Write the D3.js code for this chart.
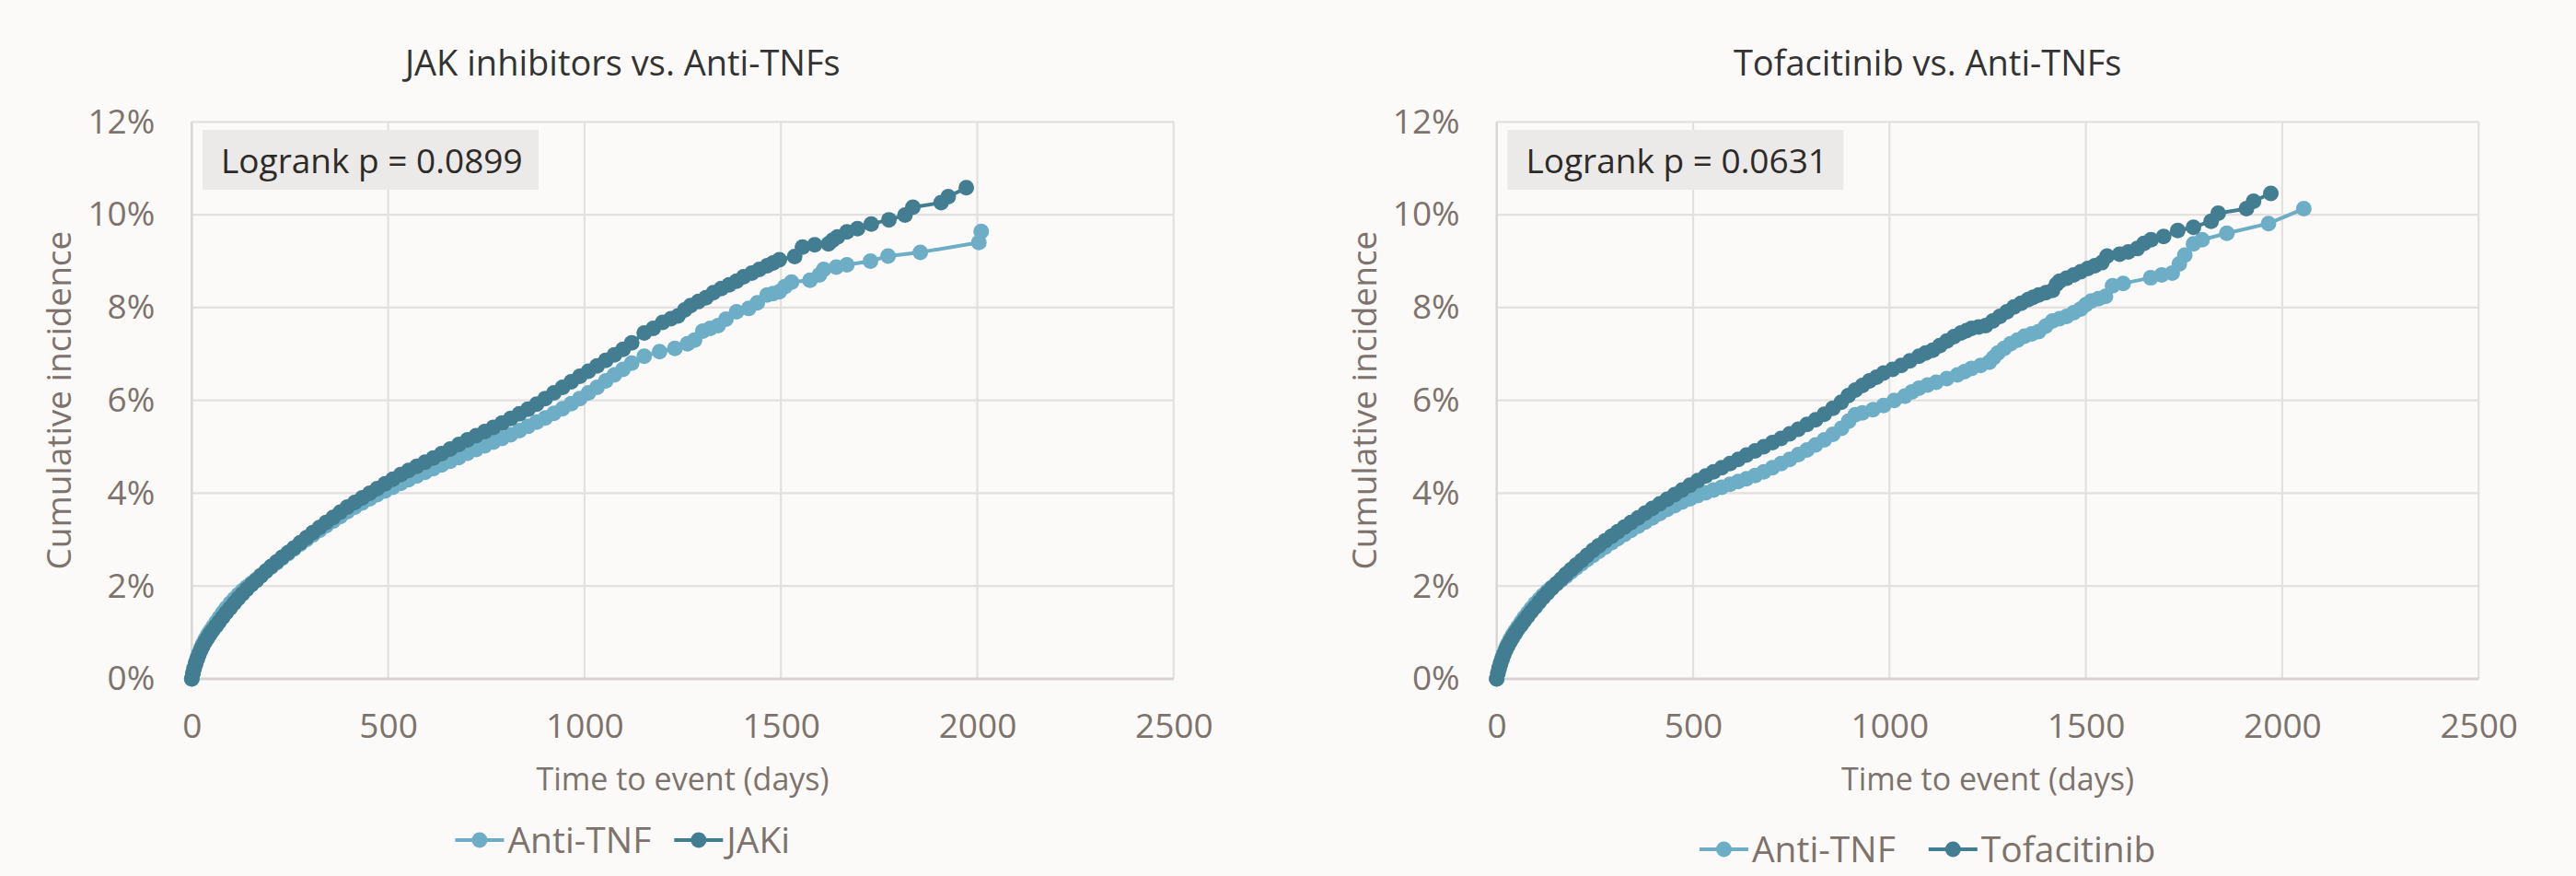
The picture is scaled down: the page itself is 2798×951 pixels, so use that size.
<!DOCTYPE html>
<html>
<head>
<meta charset="utf-8">
<script src="https://cdn.jsdelivr.net/npm/d3@7"></script>
<style>
  html, body { margin: 0; padding: 0; background: #fbfaf9; }
  svg { display: block; }
  text { font-family: "Open Sans", "Noto Sans", sans-serif; }
</style>
</head>
<body>
<svg id="chart" width="2798" height="951"></svg>
<script>
// Cumulative incidence curves, [days, percent] per event time
const jakAntiTnf = [
  [0,0],[3,0.13],[6,0.24],[10,0.36],[14,0.46],[18,0.55],[23,0.66],[28,0.75],[34,0.85],[40,0.94],
  [47,1.03],[54,1.12],[62,1.22],[70,1.32],[79,1.43],[88,1.53],[98,1.63],[108,1.72],[118,1.81],[129,1.9],
  [140,1.98],[152,2.06],[164,2.14],[176,2.23],[189,2.32],[202,2.41],[216,2.5],[230,2.6],[245,2.7],[260,2.8],
  [276,2.9],[292,3.0],[308,3.1],[325,3.2],[342,3.3],[360,3.4],[378,3.5],[396,3.6],[415,3.7],[434,3.79],
  [453,3.88],[472,3.97],[492,4.05],[512,4.13],[532,4.21],[552,4.29],[573,4.37],[594,4.45],[615,4.53],[636,4.61],
  [658,4.69],[680,4.77],[702,4.86],[724,4.94],[746,5.02],[768,5.1],[790,5.18],[812,5.26],[834,5.35],[856,5.44],
  [878,5.53],[900,5.62],[922,5.72],[944,5.82],[966,5.93],[988,6.04],[1010,6.16],[1032,6.28],[1054,6.42],[1076,6.55],
  [1098,6.67],[1120,6.8],[1152,6.95],[1191,7.05],[1230,7.12],[1262,7.22],[1280,7.3],[1301,7.49],[1320,7.55],[1340,7.61],
  [1360,7.75],[1387,7.91],[1418,7.98],[1440,8.1],[1465,8.27],[1480,8.3],[1496,8.34],[1510,8.45],[1527,8.55],[1574,8.59],
  [1598,8.7],[1609,8.82],[1641,8.87],[1668,8.92],[1728,9.0],[1773,9.11],[1855,9.19],[2004,9.4],[2010,9.64]
];
const jakJaki = [
  [0,0],[3,0.12],[6,0.22],[10,0.33],[14,0.43],[18,0.52],[23,0.62],[28,0.71],[34,0.8],[40,0.88],
  [47,0.97],[54,1.05],[62,1.14],[70,1.23],[79,1.33],[88,1.43],[98,1.53],[108,1.63],[118,1.73],[129,1.83],
  [140,1.93],[152,2.03],[164,2.12],[176,2.22],[189,2.32],[202,2.42],[216,2.52],[230,2.62],[245,2.72],[260,2.82],
  [276,2.93],[292,3.04],[308,3.15],[325,3.26],[342,3.37],[360,3.48],[378,3.59],[396,3.7],[415,3.8],[434,3.9],
  [453,4.0],[472,4.1],[492,4.2],[512,4.3],[532,4.4],[552,4.49],[573,4.58],[594,4.67],[615,4.76],[636,4.85],
  [658,4.95],[680,5.05],[702,5.15],[724,5.24],[746,5.33],[768,5.42],[790,5.51],[812,5.61],[834,5.71],[856,5.81],
  [878,5.92],[900,6.04],[922,6.16],[944,6.28],[966,6.4],[988,6.52],[1010,6.63],[1032,6.74],[1054,6.86],[1076,6.98],
  [1098,7.1],[1120,7.24],[1152,7.45],[1175,7.55],[1199,7.68],[1220,7.76],[1238,7.82],[1255,7.95],[1270,8.04],[1290,8.13],
  [1309,8.21],[1328,8.32],[1348,8.41],[1368,8.49],[1387,8.57],[1405,8.66],[1426,8.74],[1445,8.82],[1465,8.9],[1480,8.96],
  [1496,9.03],[1535,9.1],[1555,9.3],[1586,9.35],[1621,9.37],[1632,9.45],[1644,9.52],[1668,9.63],[1695,9.7],[1730,9.8],
  [1775,9.89],[1816,9.99],[1836,10.16],[1908,10.26],[1926,10.39],[1972,10.58]
];
const tofaAntiTnf = [
  [0,0],[3,0.13],[6,0.24],[10,0.36],[14,0.46],[18,0.55],[23,0.66],[28,0.75],[34,0.85],[40,0.94],
  [47,1.03],[54,1.12],[62,1.22],[70,1.32],[79,1.42],[88,1.52],[98,1.62],[108,1.71],[118,1.8],[129,1.89],
  [140,1.97],[152,2.05],[164,2.13],[176,2.21],[189,2.3],[202,2.39],[216,2.48],[230,2.57],[245,2.66],[260,2.75],
  [276,2.84],[292,2.93],[308,3.02],[325,3.11],[342,3.2],[360,3.29],[378,3.38],[396,3.47],[415,3.56],[434,3.65],
  [453,3.73],[472,3.81],[492,3.88],[512,3.95],[532,4.01],[552,4.07],[573,4.13],[594,4.19],[615,4.25],[636,4.31],
  [658,4.38],[680,4.46],[702,4.55],[724,4.64],[746,4.73],[768,4.83],[790,4.93],[812,5.04],[834,5.15],[856,5.27],
  [878,5.4],[896,5.55],[913,5.69],[931,5.73],[958,5.8],[985,5.89],[1012,6.0],[1039,6.09],[1057,6.18],[1075,6.26],
  [1097,6.33],[1119,6.39],[1146,6.47],[1173,6.55],[1191,6.62],[1209,6.69],[1232,6.75],[1254,6.82],[1265,6.92],[1276,7.02],
  [1292,7.12],[1308,7.22],[1326,7.3],[1344,7.38],[1362,7.43],[1380,7.48],[1398,7.6],[1415,7.71],[1433,7.76],[1451,7.81],
  [1469,7.89],[1487,7.97],[1500,8.06],[1514,8.14],[1532,8.19],[1550,8.24],[1568,8.47],[1595,8.52],[1665,8.64],[1693,8.7],
  [1720,8.74],[1738,8.94],[1752,9.13],[1774,9.37],[1796,9.46],[1859,9.6],[1965,9.81],[2055,10.13]
];
const tofaTofa = [
  [0,0],[3,0.12],[6,0.22],[10,0.33],[14,0.43],[18,0.52],[23,0.62],[28,0.71],[34,0.8],[40,0.89],
  [47,0.98],[54,1.07],[62,1.16],[70,1.25],[79,1.35],[88,1.45],[98,1.55],[108,1.65],[118,1.75],[129,1.85],
  [140,1.95],[152,2.05],[164,2.15],[176,2.25],[189,2.35],[202,2.45],[216,2.55],[230,2.66],[245,2.77],[260,2.87],
  [276,2.97],[292,3.07],[308,3.17],[325,3.27],[342,3.37],[360,3.47],[378,3.57],[396,3.67],[415,3.77],[434,3.87],
  [453,3.97],[472,4.07],[492,4.17],[512,4.27],[532,4.37],[552,4.46],[573,4.55],[594,4.64],[615,4.73],[636,4.82],
  [658,4.91],[680,5.0],[702,5.09],[724,5.18],[746,5.28],[768,5.38],[790,5.48],[812,5.58],[834,5.7],[856,5.83],
  [877,5.96],[895,6.1],[913,6.22],[931,6.32],[949,6.42],[967,6.5],[985,6.59],[1008,6.67],[1030,6.75],[1052,6.85],
  [1075,6.95],[1092,7.02],[1110,7.08],[1128,7.18],[1146,7.28],[1164,7.37],[1182,7.45],[1196,7.5],[1209,7.55],[1227,7.58],
  [1245,7.61],[1263,7.71],[1281,7.81],[1299,7.91],[1317,8.01],[1335,8.09],[1353,8.17],[1366,8.22],[1380,8.27],[1398,8.32],
  [1415,8.37],[1425,8.5],[1433,8.57],[1451,8.63],[1469,8.7],[1487,8.77],[1505,8.84],[1523,8.9],[1541,8.97],[1554,9.11],
  [1586,9.15],[1608,9.2],[1631,9.27],[1648,9.38],[1666,9.46],[1698,9.53],[1734,9.66],[1774,9.73],[1819,9.86],[1837,10.03],
  [1909,10.13],[1927,10.29],[1971,10.46]
];

const xTicks = [0, 500, 1000, 1500, 2000, 2500];
const yTicks = [0, 2, 4, 6, 8, 10, 12];

const panels = [
  { title: "JAK inhibitors vs. Anti-TNFs", pvalue: "Logrank p = 0.0899",
    series: [{ name: "Anti-TNF", data: jakAntiTnf, color: "#6daec6" },
             { name: "JAKi", data: jakJaki, color: "#437d92" }],
    left: 208.3, legendY: 912, legendGap: 25 },
  { title: "Tofacitinib vs. Anti-TNFs", pvalue: "Logrank p = 0.0631",
    series: [{ name: "Anti-TNF", data: tofaAntiTnf, color: "#6daec6" },
             { name: "Tofacitinib", data: tofaTofa, color: "#437d92" }],
    left: 1625.7, legendY: 922, legendGap: 36 }
];

const svg = d3.select("#chart");
const plotW = 1066.5, plotTop = 132.3, plotBottom = 737;
const labelColor = "#7d736c";

panels.forEach(p => {
  const x = d3.scaleLinear().domain([0, 2500]).range([p.left, p.left + plotW]);
  const y = d3.scaleLinear().domain([0, 12]).range([plotBottom, plotTop]);
  const g = svg.append("g");
  const center = p.left + 468;

  // gridlines
  g.append("g").selectAll("line").data(yTicks.filter(d => d > 0)).join("line")
    .attr("x1", x(0)).attr("x2", x(2500)).attr("y1", d => y(d)).attr("y2", d => y(d))
    .attr("stroke", "#e3e0dd").attr("stroke-width", 2.2);
  g.append("g").selectAll("line").data(xTicks).join("line")
    .attr("y1", y(0)).attr("y2", y(12)).attr("x1", d => x(d)).attr("x2", d => x(d))
    .attr("stroke", d => d === 0 ? "#d9d5d2" : "#e3e0dd").attr("stroke-width", d => d === 0 ? 2.5 : 2.2);
  g.append("line").attr("x1", x(0)).attr("x2", x(2500)).attr("y1", y(0)).attr("y2", y(0))
    .attr("stroke", "#d8d2d1").attr("stroke-width", 3);

  // axes
  const xAxis = g.append("g").attr("transform", `translate(0,${plotBottom})`)
    .call(d3.axisBottom(x).tickValues(xTicks).tickSize(0).tickPadding(38).tickFormat(d3.format("d")));
  const yAxis = g.append("g").attr("transform", `translate(${p.left},0)`)
    .call(d3.axisLeft(y).tickValues(yTicks).tickSize(0).tickPadding(40).tickFormat(d => d + "%"));
  [xAxis, yAxis].forEach(a => {
    a.select(".domain").remove();
    a.selectAll("text").attr("fill", labelColor).style("font-size", "37px");
  });
  xAxis.selectAll("text").attr("dy", "0.71em");

  // axis titles
  g.append("text").attr("x", x(1250)).attr("y", 858).attr("text-anchor", "middle")
    .attr("fill", labelColor).style("font-size", "34px").text("Time to event (days)");
  g.append("text").attr("transform", `translate(${p.left - 131},${(plotTop + plotBottom) / 2}) rotate(-90)`)
    .attr("text-anchor", "middle").attr("fill", labelColor).style("font-size", "37px")
    .text("Cumulative incidence");

  // title
  g.append("text").attr("x", center).attr("y", 82).attr("text-anchor", "middle")
    .attr("fill", "#333333").style("font-size", "38px").text(p.title);

  // series
  const line = d3.line().x(d => x(d[0])).y(d => y(d[1]));
  p.series.forEach(s => {
    g.append("path").datum(s.data).attr("d", line).attr("fill", "none")
      .attr("stroke", s.color).attr("stroke-width", 4).attr("stroke-linejoin", "round");
    g.append("g").selectAll("circle").data(s.data).join("circle")
      .attr("cx", d => x(d[0])).attr("cy", d => y(d[1])).attr("r", 8.5).attr("fill", s.color);
  });

  // logrank box
  g.append("rect").attr("x", p.left + 11.7).attr("y", 141).attr("width", 365).attr("height", 65)
    .attr("fill", "#ebeae8");
  g.append("text").attr("x", p.left + 31.7).attr("y", 187.5).attr("fill", "#2d2a27")
    .style("font-size", "37px").text(p.pvalue);

  // legend
  const leg = g.append("g");
  let cx = 0;
  p.series.forEach(s => {
    const it = leg.append("g").attr("transform", `translate(${cx},0)`);
    it.append("line").attr("x1", 0).attr("x2", 53).attr("y1", 0).attr("y2", 0)
      .attr("stroke", s.color).attr("stroke-width", 4);
    it.append("circle").attr("cx", 26.5).attr("cy", 0).attr("r", 8.5).attr("fill", s.color);
    const t = it.append("text").attr("x", 57).attr("y", 0).attr("dy", "0.35em")
      .attr("fill", labelColor).style("font-size", "39px").text(s.name);
    cx += 57 + t.node().getComputedTextLength() + p.legendGap;
  });
  const legW = cx - p.legendGap;
  leg.attr("transform", `translate(${center - legW / 2},${p.legendY})`);
});
</script>
</body>
</html>
